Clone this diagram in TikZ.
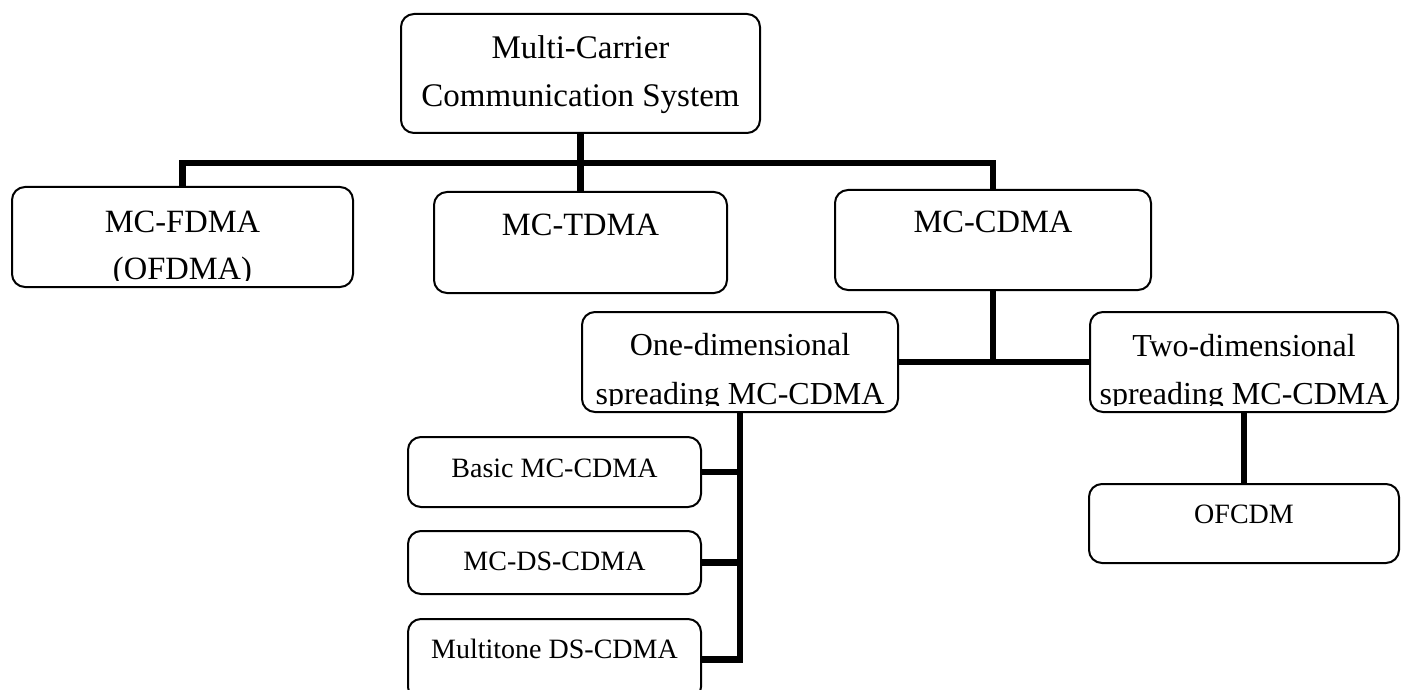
\documentclass[tikz,border=0pt]{standalone}
\usepackage{fontspec}
\setmainfont{Liberation Serif}
\begin{document}
\begin{tikzpicture}[x=1pt,y=-1pt,
  box/.style={draw, line width=2pt, rounded corners=13pt, inner sep=0pt},
  link/.style={line width=6.5pt},
  lbl/.style={anchor=base, inner sep=0pt},
  big/.style={font=\fontsize{33}{40}\selectfont},
  mid/.style={font=\fontsize{32.5}{39}\selectfont},
  med/.style={font=\fontsize{32}{38}\selectfont},
  small/.style={font=\fontsize{28}{34}\selectfont}]
\useasboundingbox (0,0) rectangle (1401,690);

% boxes
\node[box, minimum width=359pt, minimum height=119pt] (root)  at (580.5,73.5) {};
\node[box, minimum width=341pt, minimum height=100pt] (fdma)  at (182.5,237) {};
\node[box, minimum width=293pt, minimum height=101pt] (tdma)  at (580.5,242.5) {};
\node[box, minimum width=316pt, minimum height=100pt] (cdma)  at (993,240) {};
\node[box, minimum width=316pt, minimum height=100pt] (one)   at (740,362) {};
\node[box, minimum width=308pt, minimum height=100pt] (two)   at (1244,362) {};
\node[box, minimum width=293pt, minimum height=70pt]  (basic) at (554.5,472) {};
\node[box, minimum width=293pt, minimum height=63pt]  (mcds)  at (554.5,562.5) {};
\node[box, minimum width=293pt, minimum height=81pt]  (multi) at (554.5,659.5) {};
\node[box, minimum width=310pt, minimum height=79pt]  (ofcdm) at (1244,523.5) {};

% labels
\node[lbl, big] (troot1) at (580.5,59)  {Multi-Carrier};
\node[lbl, big] (troot2) at (580.5,107) {Communication System};
\node[lbl, mid] (tfdma1) at (182.5,232) {MC-FDMA};
\begin{scope}
  \clip (0,0) rectangle (1401,280);
  \node[lbl, mid] (tfdma2) at (182.5,279) {(OFDMA)};
\end{scope}
\node[lbl, mid] (ttdma)  at (580.5,235) {MC-TDMA};
\node[lbl, mid] (tcdma)  at (993,232)   {MC-CDMA};
\node[lbl, med] (tone1)  at (740,355)   {One-dimensional};
\node[lbl, med] (ttwo1)  at (1244,356)  {Two-dimensional};
\begin{scope}
  \clip (0,0) rectangle (1401,405);
  \node[lbl, med] (tone2) at (740,404)  {spreading MC-CDMA};
  \node[lbl, med] (ttwo2) at (1244,404) {spreading MC-CDMA};
\end{scope}
\node[lbl, small] (tbasic) at (554.5,477) {Basic MC-CDMA};
\node[lbl, small] (tmcds)  at (554.5,570) {MC-DS-CDMA};
\node[lbl, small] (tmulti) at (554.5,658) {Multitone DS-CDMA};
\node[lbl, small] (tofcdm) at (1244,523)  {OFCDM};

% tree connectors
\coordinate (j0) at (582,163);
\draw[link] (fdma.north) |- (j0) -| (cdma.north);
\draw[link] (root.south) -- (tdma.north);
\draw[link] (cdma.south) -- (cdma.south |- one.east);
\draw[link] (one.east) -- (two.west);
\draw[link] (one.south) |- (multi.east);
\draw[link] (basic.east) -- (basic.east -| one.south);
\draw[link] (mcds.east) -- (mcds.east -| one.south);
\draw[link] (two.south) -- (ofcdm.north);
\end{tikzpicture}
\end{document}
